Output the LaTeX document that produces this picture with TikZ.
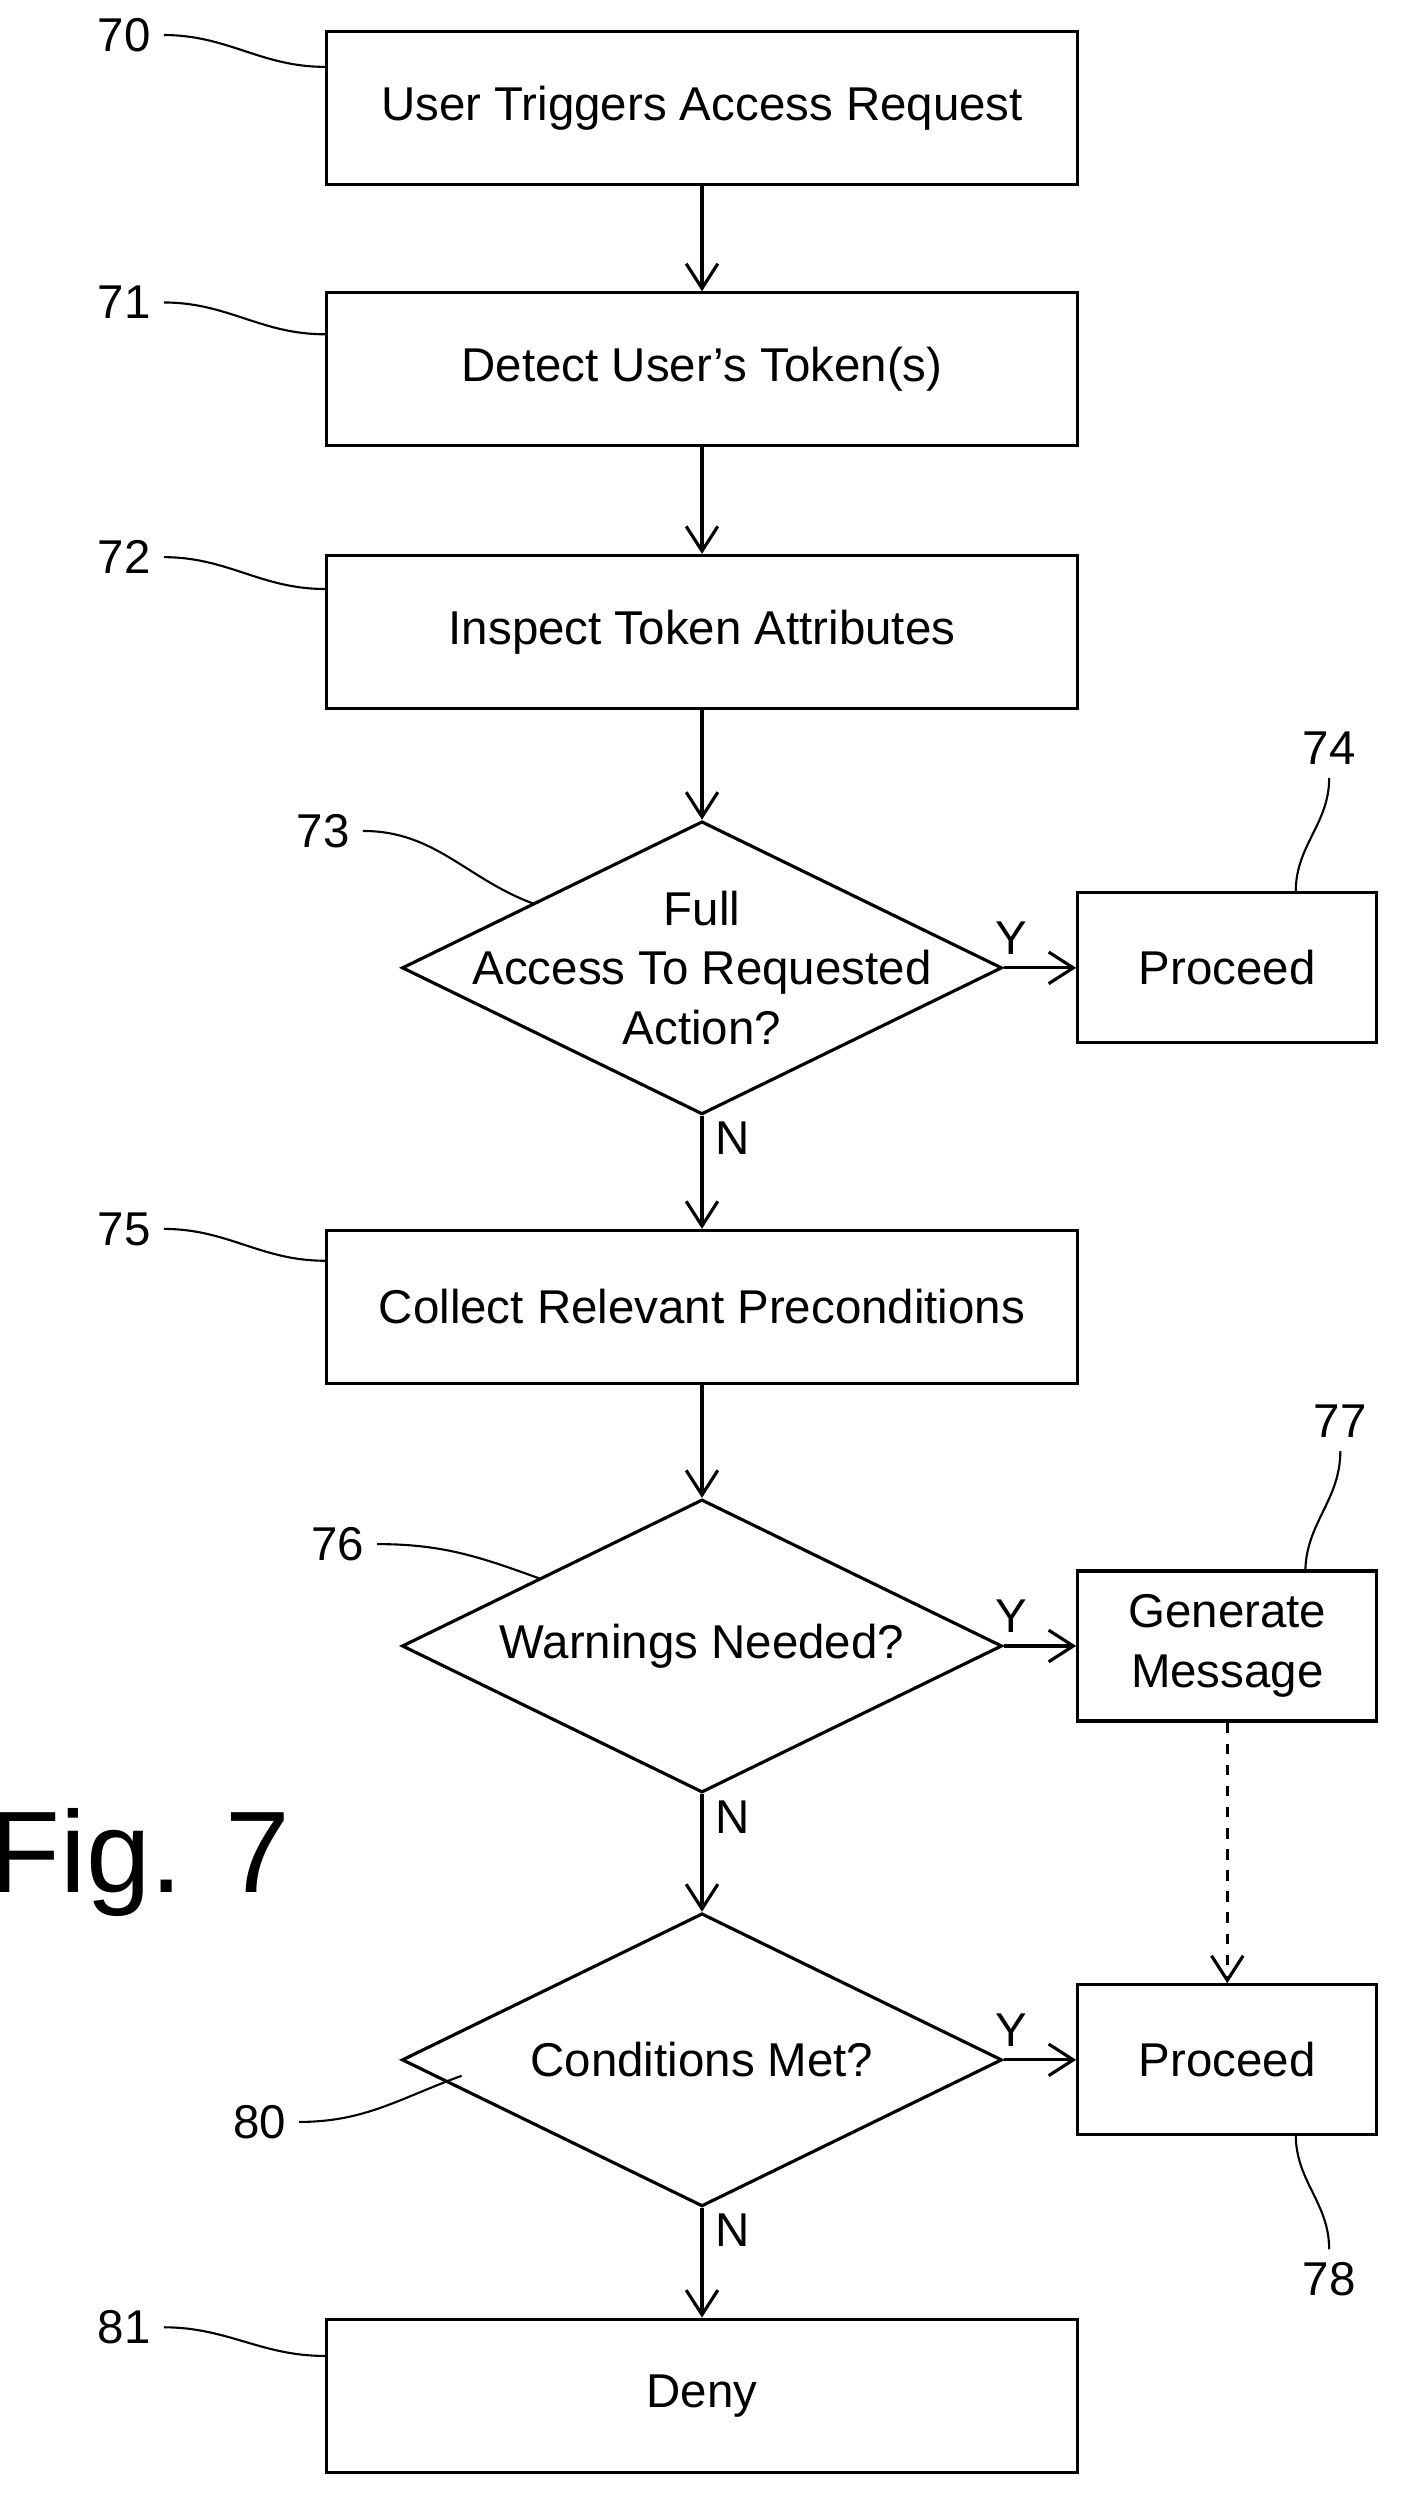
\documentclass[tikz,border=0pt]{standalone}
\usepackage{fontspec}
\setmainfont{Liberation Sans}
\usetikzlibrary{arrows,arrows.meta,shapes.geometric}
\begin{document}
\begin{tikzpicture}[x=0.01592cm,y=-0.01592cm,->,>={Straight Barb[length=7pt,width=9pt]},line width=0.9pt,
    font=\fontsize{13.5}{17}\selectfont,
    box/.style = {draw,rectangle,align=center},
    stage/.style = {box,minimum width=7.51cm,minimum height=1.53cm},
    side/.style = {box,minimum width=2.99cm,minimum height=1.5cm},
    dec/.style = {draw,diamond,aspect=2.05,inner sep=0pt,minimum width=6.0cm,minimum height=2.93cm,
                  label={[align=center]center:#1}},
    lead/.style = {-,line width=0.6pt},
    el/.style = {font=\fontsize{13.5}{16}\selectfont}]
  \useasboundingbox (0,0) rectangle (880,1568);

  \node[stage] (trigger)  at (441,68)   {User Triggers Access Request};
  \node[stage] (detect)   at (441,232)  {Detect User's Token(s)};
  \node[stage] (inspect)  at (441,397)  {Inspect Token Attributes};
  \node[dec={Full\\Access To Requested\\Action?}] (full) at (441,608) {};
  \node[side]  (proceed1) at (771,608)  {Proceed};
  \node[stage] (collect)  at (441,821)  {Collect Relevant Preconditions};
  \node[dec={Warnings Needed?}] (warn) at (441,1034) {};
  \node[side]  (message)  at (771,1034) {Generate\\Message};
  \node[dec={Conditions Met?}] (cond) at (441,1294) {};
  \node[side]  (proceed2) at (771,1294) {Proceed};
  \node[stage] (deny)     at (441,1505) {Deny};

  \node[font=\fontsize{33}{36}\selectfont] (fig) at (88,1170) {Fig. 7};

  \path (trigger) edge (detect)
        (detect)  edge (inspect)
        (inspect) edge (full)
        (full)    edge node[el,above,pos=0.1] {Y} (proceed1)
                  edge node[el,right,pos=0.2] {N} (collect)
        (collect) edge (warn)
        (warn)    edge node[el,above,pos=0.1] {Y} (message)
                  edge node[el,right,pos=0.2] {N} (cond)
        (cond)    edge node[el,above,pos=0.1] {Y} (proceed2)
                  edge node[el,right,pos=0.2] {N} (deny);
  \draw[dashed] (message) -- (proceed2);

  % reference numerals
  \node[el] (n70) at (78,22)    {70};
  \node[el] (n71) at (78,190)   {71};
  \node[el] (n72) at (78,350)   {72};
  \node[el] (n73) at (203,522)  {73};
  \node[el] (n74) at (835,470)  {74};
  \node[el] (n75) at (78,772)   {75};
  \node[el] (n76) at (212,970)  {76};
  \node[el] (n77) at (842,893)  {77};
  \node[el] (n80) at (163,1333) {80};
  \node[el] (n78) at (835,1432) {78};
  \node[el] (n81) at (78,1462)  {81};

  \draw[lead] (n70.east) to[out=0,in=180] (trigger.west |- 0,42);
  \draw[lead] (n71.east) to[out=0,in=180] (detect.west |- 0,210);
  \draw[lead] (n72.east) to[out=0,in=180] (inspect.west |- 0,370);
  \draw[lead] (n73.east) to[out=0,in=160] (336,568);
  \draw[lead] (n74.south) to[out=-90,in=90] (814,560);
  \draw[lead] (n75.east) to[out=0,in=180] (collect.west |- 0,792);
  \draw[lead] (n76.east) to[out=0,in=160] (340,992);
  \draw[lead] (n77.south) to[out=-90,in=90] (820,988);
  \draw[lead] (n80.east) to[out=0,in=200] (290,1304);
  \draw[lead] (n78.north) to[out=90,in=-90] (814,1341);
  \draw[lead] (n81.east) to[out=0,in=180] (deny.west |- 0,1480);
\end{tikzpicture}
\end{document}
